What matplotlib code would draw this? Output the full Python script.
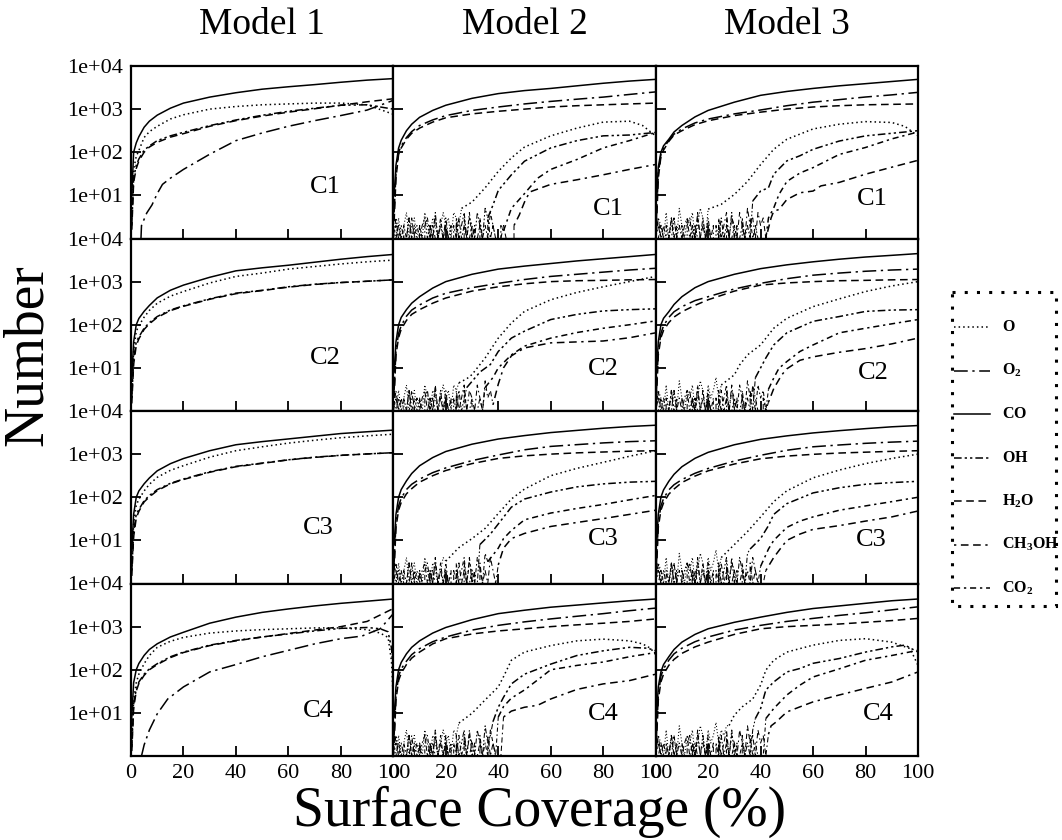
import numpy as np
import matplotlib
matplotlib.use("Agg")
import matplotlib.pyplot as plt
from matplotlib.ticker import FixedLocator, FuncFormatter, NullLocator
from matplotlib.patches import Rectangle

plt.rcParams['font.family'] = ['Liberation Serif', 'DejaVu Serif']
plt.rcParams['mathtext.fontset'] = 'custom'
plt.rcParams['mathtext.rm'] = 'Liberation Serif'
plt.rcParams['mathtext.bf'] = 'Liberation Serif:bold'
plt.rcParams['mathtext.it'] = 'Liberation Serif:italic'

# ---------------- data ----------------
MODELS = ['Model 1', 'Model 2', 'Model 3']
ROWS = ['C1', 'C2', 'C3', 'C4']
SPECIES = ['O', 'O2', 'CO', 'OH', 'H2O', 'CH3OH', 'CO2']
LEGEND_LABELS = [r'$\mathbf{O}$', r'$\mathbf{O_2}$', r'$\mathbf{CO}$', r'$\mathbf{OH}$',
                 r'$\mathbf{H_2O}$', r'$\mathbf{CH_3OH}$', r'$\mathbf{CO_2}$']
X_TICKS = [0, 20, 40, 60, 80, 100]
Y_TICKS = [10, 100, 1000, 10000]

# common coverage grid for the large populations
XM = [0.3, 1, 2, 3, 5, 7, 10, 15, 20, 30, 40, 50, 60, 70, 80, 90, 100]

# ---- Model 1 ----
M1C1_CO = [10, 100, 165, 230, 380, 525, 725, 1050, 1380, 1900, 2400, 2900, 3300, 3700, 4200, 4700, 5100]
M1C1_O = [3, 40, 80, 110, 220, 300, 400, 590, 740, 1000, 1150, 1260, 1320, 1380, 1380, 1260, 760]
M1C1_OH = [2, 25, 50, 70, 112, 140, 186, 240, 290, 415, 560, 720, 890, 1050, 1230, 1260, 1000]
M1C1_H2O = [1.6, 20, 42, 63, 100, 132, 170, 224, 270, 400, 540, 690, 850, 1020, 1230, 1480, 1740]
M1C1_O2 = ([3.8, 4, 6, 8, 10, 12, 15, 20, 30, 40, 50, 60, 70, 80, 90, 100],
           [1, 2, 3.9, 6, 11, 18, 25, 40, 90, 186, 280, 400, 540, 710, 950, 1600])

M1C2_CO = [6, 40, 100, 140, 205, 280, 420, 630, 830, 1260, 1780, 2090, 2400, 2820, 3310, 3800, 4270]
M1C2_O = [2.5, 25, 70, 95, 150, 215, 315, 460, 590, 930, 1320, 1580, 1950, 2240, 2570, 2880, 3160]
M1C2_OH = [2, 16, 40, 52, 83, 112, 155, 220, 275, 400, 540, 630, 760, 870, 955, 1020, 1100]
M1C2_H2O = [1.5, 12, 33, 47, 78, 105, 148, 212, 268, 390, 525, 620, 745, 860, 950, 1020, 1100]

M1C3_CO = [6, 40, 100, 140, 205, 280, 410, 600, 790, 1200, 1650, 1950, 2250, 2600, 3000, 3300, 3600]
M1C3_O = [2.5, 25, 65, 90, 140, 200, 290, 420, 540, 850, 1200, 1480, 1800, 2100, 2400, 2650, 2900]
M1C3_OH = [2, 16, 40, 52, 83, 110, 150, 210, 265, 390, 520, 620, 740, 850, 940, 1010, 1080]
M1C3_H2O = [1.5, 12, 33, 47, 78, 102, 142, 205, 258, 380, 510, 610, 735, 840, 935, 1010, 1080]

M1C4_CO = [8, 50, 100, 140, 215, 295, 400, 575, 740, 1200, 1660, 2140, 2570, 3020, 3470, 3890, 4370]
M1C4_X_TAIL = [0.3, 1, 2, 3, 5, 7, 10, 15, 20, 30, 40, 50, 60, 70, 80, 90, 95, 98, 99.3, 100]
M1C4_O = [2, 20, 50, 79, 138, 214, 331, 457, 562, 708, 794, 851, 891, 933, 933, 851, 708, 562, 158, 20]
M1C4_OH = [1.6, 16, 35, 52, 79, 105, 138, 200, 257, 372, 479, 575, 676, 794, 912, 955, 891, 759, 316, 100]
M1C4_H2O = [1.3, 12.6, 32, 48, 74, 100, 132, 191, 251, 363, 468, 575, 692, 832, 1000, 1320, 2630]
M1C4_O2 = ([4, 5, 7, 10, 14, 20, 30, 40, 50, 60, 70, 80, 88, 95, 100],
           [1, 1.8, 4, 9.5, 21, 40, 89, 132, 200, 282, 398, 525, 603, 891, 2000])

# ---- Model 2 (large populations) ----
M2C1_CO = [10, 50, 125, 190, 316, 447, 645, 933, 1230, 1780, 2290, 2690, 3020, 3470, 3980, 4470, 4900]
M2C1_O2 = [4, 32, 100, 141, 219, 302, 417, 562, 708, 933, 1120, 1320, 1510, 1700, 1900, 2190, 2510]
M2C1_H2O = [2.5, 25, 89, 126, 200, 275, 363, 500, 630, 776, 891, 1000, 1120, 1200, 1260, 1320, 1380]
M2C2_CO = [8, 40, 100, 148, 224, 316, 447, 708, 1000, 1480, 1950, 2290, 2630, 3020, 3390, 3800, 4270]
M2C2_O2 = [3, 25, 63, 95, 158, 219, 288, 417, 537, 724, 912, 1120, 1320, 1480, 1660, 1860, 2040]
M2C2_H2O = [2, 20, 50, 79, 126, 174, 224, 316, 417, 603, 759, 891, 1000, 1050, 1070, 1100, 1120]
M2C3_CO = [8, 40, 100, 151, 240, 355, 537, 832, 1150, 1700, 2240, 2690, 3160, 3550, 3980, 4370, 4680]
M2C3_O2 = [3, 25, 63, 95, 151, 200, 263, 372, 479, 708, 955, 1260, 1510, 1660, 1820, 1950, 2040]
M2C3_H2O = [2, 20, 50, 76, 120, 158, 224, 316, 417, 603, 794, 912, 1000, 1070, 1120, 1170, 1200]
M2C4_CO = [8, 40, 100, 148, 234, 331, 468, 708, 955, 1450, 2000, 2400, 2820, 3160, 3550, 3980, 4370]
M2C4_O2 = [3, 25, 71, 105, 158, 224, 309, 447, 575, 832, 1070, 1290, 1510, 1740, 2000, 2340, 2690]
M2C4_H2O = [2, 20, 56, 83, 132, 186, 257, 398, 525, 676, 794, 891, 1000, 1100, 1200, 1320, 1510]

# ---- Model 3 (large populations) ----
M3C1_CO = [8, 45, 100, 141, 200, 295, 417, 661, 933, 1450, 2090, 2570, 3020, 3470, 3890, 4370, 4900]
M3C1_O2 = [3, 32, 89, 126, 186, 263, 347, 479, 589, 776, 955, 1200, 1450, 1660, 1910, 2140, 2450]
M3C1_H2O = [2, 25, 79, 112, 178, 251, 316, 437, 537, 708, 851, 1000, 1120, 1200, 1260, 1290, 1320]
M3C2_CO = [8, 40, 100, 141, 200, 295, 447, 724, 1000, 1480, 2000, 2450, 2880, 3310, 3720, 4070, 4470]
M3C2_O2 = [3, 25, 63, 95, 148, 200, 263, 363, 447, 676, 912, 1170, 1410, 1580, 1740, 1860, 1950]
M3C2_H2O = [2, 20, 50, 74, 112, 151, 200, 282, 380, 603, 832, 933, 1000, 1050, 1070, 1100, 1120]
M3C3_CO = [8, 40, 100, 148, 234, 340, 510, 800, 1100, 1650, 2200, 2650, 3100, 3500, 3900, 4300, 4600]
M3C3_O2 = [3, 25, 63, 93, 148, 195, 257, 360, 465, 690, 940, 1230, 1480, 1630, 1780, 1900, 2000]
M3C3_H2O = [2, 20, 50, 74, 118, 155, 220, 310, 410, 590, 780, 900, 990, 1060, 1110, 1160, 1200]
M3C4_CO = [8, 40, 89, 132, 200, 295, 437, 661, 891, 1260, 1660, 2140, 2630, 3020, 3470, 3980, 4370]
M3C4_O2 = [3, 25, 71, 105, 166, 234, 316, 447, 575, 832, 1070, 1320, 1550, 1820, 2090, 2450, 2880]
M3C4_H2O = [2, 20, 52, 79, 126, 174, 240, 339, 437, 661, 891, 1000, 1070, 1150, 1260, 1380, 1550]

# ---- low-count fluctuations (coverage 0, 1, 2, ... %) ----
NOISE_A = [2, 1, 3, 1, 2, 4, 1, 2, 3, 1, 2, 1, 4, 2, 1, 3, 2, 1, 2, 4, 2, 3, 1, 4, 3, 2, 5, 3, 2, 6,
           3, 4, 2, 5, 3, 6, 4, 3, 7, 4, 5, 3, 6, 4, 5, 3, 6, 4, 5, 3]
NOISE_E = [1, 3, 2, 1, 4, 1, 2, 3, 1, 5, 2, 1, 3, 2, 4, 1, 2, 5, 3, 1, 4, 2, 3, 6, 2, 4, 3, 5, 2, 7,
           4, 3, 6, 4, 8, 5, 3, 6, 9, 4, 7, 5, 8, 6, 9, 5, 7, 4, 6, 5]
NOISE_B = [1, 3, 1, 2, 1, 1, 3, 1, 2, 0, 1, 2, 3, 1, 2, 1, 4, 1, 2, 1, 3, 1, 2, 0, 3, 1, 2, 4, 1, 3,
           2, 1, 4, 2, 1, 5, 2, 3, 1, 4, 2, 3, 1, 2, 3, 1, 2, 0, 2, 1]
NOISE_C = [1, 2, 1, 0, 2, 1, 3, 1, 1, 2, 1, 0, 2, 3, 1, 2, 1, 1, 3, 1, 2, 1, 0, 2, 1, 3, 1, 2, 1, 4,
           1, 2, 0, 3, 1, 2, 1, 4, 2, 1, 0, 2, 1, 3, 1, 2, 0, 1, 2, 1]
NOISE_D = [0, 1, 2, 1, 0, 1, 1, 3, 1, 0, 2, 1, 1, 0, 2, 1, 3, 1, 0, 1, 2, 1, 1, 0, 2, 1, 0, 3, 1, 1,
           2, 0, 1, 2, 1, 0, 3, 1, 2, 1, 0, 1, 2, 1, 1, 0, 2, 1, 0, 1]

# ---- Model 2 small populations (rising part: coverage, number) ----
M2C1_O = ([26, 30, 35, 40, 45, 50, 60, 70, 80, 90, 95, 100], [5, 7, 15, 36, 74, 132, 240, 363, 500, 525, 417, 240])
M2C1_OH = ([36, 38, 40, 45, 50, 60, 70, 80, 90, 100], [3, 6, 13, 30, 62, 126, 186, 240, 251, 288])
M2C1_CO2 = ([42, 45, 50, 55, 60, 70, 80, 90, 100], [1.5, 5, 11, 25, 40, 68, 126, 186, 288])
M2C1_CH3OH = ([46, 48, 50, 52, 60, 70, 80, 90, 100], [2, 3.5, 7, 12, 18, 23, 30, 40, 52])

M2C2_O = ([25, 28, 30, 35, 40, 45, 50, 60, 70, 80, 90, 100], [4.5, 5.6, 7, 17, 49, 110, 204, 380, 562, 759, 1000, 1320])
M2C2_OH = ([28, 33, 37, 40, 45, 50, 60, 70, 80, 90, 100], [3.5, 8, 12, 24, 49, 71, 132, 174, 209, 224, 234])
M2C2_CO2 = ([35, 38, 40, 45, 50, 60, 70, 80, 90, 100], [3.5, 6, 10, 20, 32, 49, 66, 83, 100, 123])
M2C2_CH3OH = ([38, 40, 42, 45, 50, 60, 70, 80, 90, 100], [1.4, 4.2, 10, 19, 29, 38, 40, 42, 50, 65])

M2C3_O = ([20, 25, 30, 35, 40, 45, 50, 60, 70, 80, 90, 100], [3.3, 6.8, 11, 19, 42, 91, 155, 316, 468, 646, 891, 1200])
M2C3_OH = ([33, 37, 40, 45, 50, 60, 70, 80, 90, 100], [8, 14, 24, 59, 91, 132, 174, 204, 224, 234])
M2C3_CO2 = ([36, 40, 42, 45, 50, 60, 70, 80, 90, 100], [3.2, 6.6, 11, 17, 30, 43, 55, 68, 87, 110])
M2C3_CH3OH = ([40, 42, 45, 50, 60, 70, 80, 90, 100], [2.7, 6.6, 11, 14.5, 21, 26, 32, 40, 50])

M2C4_O = ([25, 30, 35, 40, 42, 45, 50, 60, 70, 80, 90, 95, 98, 100],
          [5.8, 9.8, 20, 40, 69, 166, 257, 363, 468, 513, 468, 398, 316, 224])
M2C4_OH = ([38, 40, 42, 45, 50, 60, 70, 80, 90, 97, 100], [6.3, 13.5, 23, 47, 79, 135, 214, 275, 331, 316, 275])
M2C4_CO2 = ([40, 42, 45, 50, 55, 60, 70, 80, 90, 100], [8, 14, 22, 34, 58, 100, 126, 151, 200, 251])
M2C4_CH3OH = ([42, 45, 50, 55, 60, 70, 80, 90, 100], [8, 11, 13.5, 15, 21, 35, 47, 56, 79])

# ---- Model 3 small populations ----
M3C1_O = ([20, 25, 30, 35, 40, 45, 50, 60, 70, 80, 90, 95, 100],
          [4.8, 6.2, 10.5, 21, 52, 117, 200, 347, 447, 513, 490, 398, 240])
M3C1_OH = ([37, 40, 43, 45, 50, 55, 60, 70, 80, 90, 100], [7.4, 12.6, 15, 31, 63, 83, 117, 182, 240, 275, 316])
M3C1_CO2 = ([42, 43, 45, 47, 50, 55, 60, 70, 80, 90, 100], [1, 3, 5.1, 10.5, 21, 33, 44, 89, 129, 204, 295])
M3C1_CH3OH = ([42, 44, 45, 47, 50, 55, 60, 63, 70, 80, 90, 100], [1, 3, 4.3, 4.7, 8, 11.5, 12.6, 16.6, 20, 31, 45, 65])

M3C2_O = ([25, 30, 32, 35, 40, 45, 50, 60, 70, 80, 90, 100], [4, 6.9, 11.7, 20, 34, 83, 141, 263, 398, 589, 794, 1000])
M3C2_OH = ([38, 40, 42, 45, 50, 60, 70, 80, 90, 100], [5.9, 10, 17, 34, 65, 120, 155, 204, 219, 224])
M3C2_CO2 = ([43, 45, 47, 50, 55, 60, 70, 80, 90, 100], [3.2, 5.8, 9.8, 14, 24, 34, 65, 83, 105, 132])
M3C2_CH3OH = ([43, 45, 48, 50, 55, 60, 70, 80, 90, 100], [1.6, 3.3, 6.8, 9.5, 15, 18, 23, 28, 36, 49])

M3C3_O = ([25, 30, 35, 40, 45, 50, 60, 70, 80, 90, 100], [4, 8, 16, 35, 79, 141, 282, 427, 603, 794, 1000])
M3C3_OH = ([36, 40, 43, 45, 50, 60, 70, 80, 90, 100], [6.3, 11, 22, 40, 71, 126, 166, 200, 219, 234])
M3C3_CO2 = ([40, 43, 45, 50, 55, 60, 70, 80, 90, 100], [2.5, 6.3, 10, 20, 28, 35, 50, 63, 79, 100])
M3C3_CH3OH = ([42, 45, 48, 50, 55, 60, 70, 80, 90, 100], [2, 4, 7, 10, 14, 18, 22, 28, 35, 48])

M3C4_O = ([28, 30, 33, 37, 40, 42, 45, 50, 60, 70, 80, 90, 97, 100],
          [5.1, 8.9, 13.8, 21, 44, 98, 166, 257, 372, 479, 525, 437, 309, 126])
M3C4_OH = ([38, 40, 42, 45, 50, 55, 60, 70, 80, 90, 95, 100], [7.4, 12.6, 34, 52, 89, 107, 141, 182, 257, 339, 372, 257])
M3C4_CO2 = ([42, 45, 50, 55, 60, 70, 80, 90, 100], [7.4, 12.6, 26, 44, 68, 105, 166, 214, 282])
M3C4_CH3OH = ([43, 44, 46, 48, 50, 55, 60, 70, 80, 90, 100], [3.2, 5, 6.2, 8.1, 10.5, 13.8, 18, 26, 37, 52, 89])

# ---------------- styles ----------------
STYLE = {
    'O': (0, (1, 2)),
    'O2': (0, (9, 3, 1.5, 3)),
    'CO': '-',
    'OH': (0, (5, 2, 1.5, 2, 1.5, 2)),
    'H2O': (0, (5, 3)),
    'CH3OH': (0, (1.5, 3, 5, 3, 5, 3)),
    'CO2': (0, (4, 2.5, 1.5, 2.5)),
}
LABEL_POS = {  # panel tag position (axes fraction) per (row, col)
    (0, 0): (0.74, 0.30), (0, 1): (0.82, 0.17), (0, 2): (0.825, 0.23),
    (1, 0): (0.74, 0.31), (1, 1): (0.80, 0.245), (1, 2): (0.83, 0.22),
    (2, 0): (0.715, 0.32), (2, 1): (0.80, 0.26), (2, 2): (0.82, 0.25),
    (3, 0): (0.715, 0.26), (3, 1): (0.80, 0.245), (3, 2): (0.85, 0.245),
}


def noisy(noise, rise):
    """Return (noise segment, rising segment) for one small population."""
    rx, ry = rise
    n = int(rx[0])
    noise_seg = (list(range(n)) + [rx[0]], list(noise[:n]) + [ry[0]])
    return noise_seg, (list(rx), list(ry))


PANELS = {
    (0, 0): {'O2': M1C1_O2, 'H2O': (XM, M1C1_H2O), 'OH': (XM, M1C1_OH), 'O': (XM, M1C1_O), 'CO': (XM, M1C1_CO)},
    (1, 0): {'H2O': (XM, M1C2_H2O), 'OH': (XM, M1C2_OH), 'O': (XM, M1C2_O), 'CO': (XM, M1C2_CO)},
    (2, 0): {'H2O': (XM, M1C3_H2O), 'OH': (XM, M1C3_OH), 'O': (XM, M1C3_O), 'CO': (XM, M1C3_CO)},
    (3, 0): {'O2': M1C4_O2, 'H2O': (XM, M1C4_H2O), 'OH': (M1C4_X_TAIL, M1C4_OH),
             'O': (M1C4_X_TAIL, M1C4_O), 'CO': (XM, M1C4_CO)},
}
NOISE_SEGS = {}
M23 = {
    (0, 1): (M2C1_CO, M2C1_O2, M2C1_H2O, M2C1_O, M2C1_OH, M2C1_CO2, M2C1_CH3OH),
    (1, 1): (M2C2_CO, M2C2_O2, M2C2_H2O, M2C2_O, M2C2_OH, M2C2_CO2, M2C2_CH3OH),
    (2, 1): (M2C3_CO, M2C3_O2, M2C3_H2O, M2C3_O, M2C3_OH, M2C3_CO2, M2C3_CH3OH),
    (3, 1): (M2C4_CO, M2C4_O2, M2C4_H2O, M2C4_O, M2C4_OH, M2C4_CO2, M2C4_CH3OH),
    (0, 2): (M3C1_CO, M3C1_O2, M3C1_H2O, M3C1_O, M3C1_OH, M3C1_CO2, M3C1_CH3OH),
    (1, 2): (M3C2_CO, M3C2_O2, M3C2_H2O, M3C2_O, M3C2_OH, M3C2_CO2, M3C2_CH3OH),
    (2, 2): (M3C3_CO, M3C3_O2, M3C3_H2O, M3C3_O, M3C3_OH, M3C3_CO2, M3C3_CH3OH),
    (3, 2): (M3C4_CO, M3C4_O2, M3C4_H2O, M3C4_O, M3C4_OH, M3C4_CO2, M3C4_CH3OH),
}
small_noises = [NOISE_B, NOISE_C, NOISE_D]
for k, (key, vals) in enumerate(M23.items()):
    co, o2, h2o, o, oh, co2, ch3oh = vals
    nO = NOISE_A if key[1] == 1 else NOISE_E
    parts = {
        'CH3OH': noisy(small_noises[(k + 2) % 3], ch3oh),
        'CO2': noisy(small_noises[(k + 1) % 3], co2),
        'OH': noisy(small_noises[k % 3], oh),
        'O': noisy(nO, o),
    }
    PANELS[key] = {sp: p[1] for sp, p in parts.items()}
    PANELS[key].update({'H2O': (XM, h2o), 'O2': (XM, o2), 'CO': (XM, co)})
    NOISE_SEGS[key] = {sp: p[0] for sp, p in parts.items()}

# ---------------- figure ----------------
W, H = 1062, 840
fig = plt.figure(figsize=(W / 100, H / 100), dpi=100)
gs = fig.add_gridspec(4, 3, left=131 / W, right=918 / W, top=1 - 66 / H, bottom=1 - 756 / H,
                      wspace=0, hspace=0)

ytick_fmt = FuncFormatter(lambda v, p: '1e+%02d' % int(round(np.log10(v))))

for r in range(4):
    for c in range(3):
        ax = fig.add_subplot(gs[r, c])
        for sp, (xs, ys) in NOISE_SEGS.get((r, c), {}).items():
            ax.plot(xs, ys, color='black', lw=0.75, linestyle=STYLE[sp])
        for sp, (xs, ys) in PANELS[(r, c)].items():
            ax.plot(xs, ys, color='black', lw=1.1, linestyle=STYLE[sp])
        ax.set_yscale('log', nonpositive='clip')
        ax.set_ylim(1, 1e4)
        ax.set_xlim(0, 100)
        ax.yaxis.set_major_locator(FixedLocator(Y_TICKS))
        ax.yaxis.set_minor_locator(NullLocator())
        ax.yaxis.set_major_formatter(ytick_fmt)
        ax.xaxis.set_major_locator(FixedLocator(X_TICKS))
        ax.xaxis.set_major_formatter(FuncFormatter(lambda v, p: '%d' % v))
        ax.tick_params(direction='in', length=7, width=1.3, labelsize=16, top=False, right=False,
                       labelleft=(c == 0), labelbottom=(r == 3))
        ax.tick_params(axis='y', pad=6)
        ax.tick_params(axis='x', pad=6)
        for s in ax.spines.values():
            s.set_linewidth(1.6)
        fx, fy = LABEL_POS[(r, c)]
        ax.text(fx, fy, ROWS[r], transform=ax.transAxes, fontsize=19, ha='center', va='center')

# column titles
for c, name in enumerate(MODELS):
    cx = (131 + (c + 0.5) * (918 - 131) / 3) / W
    fig.text(cx, 1 - 25 / H, name, fontsize=27, ha='center', va='center')

fig.text(28 / W, 1 - 355 / H, 'Number', fontsize=40, rotation=90, ha='center', va='center')
fig.text(540 / W, 1 - 812 / H, 'Surface Coverage (%)', fontsize=40, ha='center', va='center')

# legend box
lax = fig.add_axes([950 / W, 1 - 607 / H, 107 / W, 317 / H])
lax.set_xlim(0, 107)
lax.set_ylim(317, 0)
lax.axis('off')
lax.add_patch(Rectangle((1.5, 1.5), 104, 314, fill=False, lw=2.2, linestyle=(0, (1, 3)),
                        edgecolor='black', clip_on=False))
for i, (sp, lab) in enumerate(zip(SPECIES, LEGEND_LABELS)):
    yy = 37 + i * 43.5
    lax.plot([4, 40], [yy, yy], color='black', lw=1.1, linestyle=STYLE[sp])
    lax.text(52, yy, lab, fontsize=11.5, ha='left', va='center')

fig.savefig('out.png', dpi=100)
